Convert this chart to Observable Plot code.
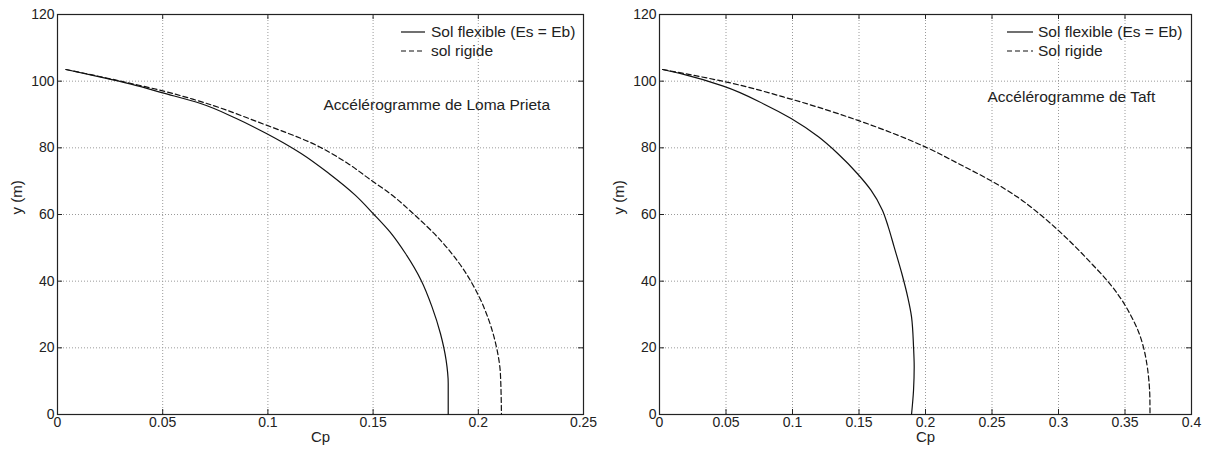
<!DOCTYPE html>
<html>
<head>
<meta charset="utf-8">
<script src="https://cdn.jsdelivr.net/npm/d3@7"></script>
<script src="https://cdn.jsdelivr.net/npm/@observablehq/plot@0.6"></script>
<style>
  html, body { margin: 0; padding: 0; background: #fff; }
  #wrap { position: relative; width: 1212px; height: 455px; font-family: "Liberation Sans", Arial, sans-serif; }
  .panel { position: absolute; top: 0; }
  .legend { position: absolute; top: 0; left: 0; pointer-events: none; }
</style>
</head>
<body>
<div id="wrap"></div>
<script>
// ---- Data: Loma Prieta (left panel) ----
const lomaFlexX = [0.004, 0.02, 0.035, 0.05, 0.068, 0.085, 0.0993, 0.1158, 0.129, 0.1415, 0.15, 0.158, 0.1654, 0.1728, 0.178, 0.182, 0.1847, 0.1857, 0.1857];
const lomaFlexY = [103.5, 101.3, 99.1, 96.5, 93.3, 88.8, 84.3, 78.3, 72.3, 65.8, 60.3, 54.8, 48.3, 40.3, 32.3, 24.3, 16.3, 9.3, 0];
const lomaRigX = [0.004, 0.02, 0.035, 0.05, 0.0643, 0.0993, 0.1195, 0.138, 0.149, 0.158, 0.169, 0.182, 0.191, 0.2004, 0.205, 0.2086, 0.2105, 0.211];
const lomaRigY = [103.5, 101.4, 99.3, 97.1, 94.6, 86.8, 81.8, 75.3, 70.3, 66.3, 60.3, 52.3, 45.3, 35.3, 28.3, 20.3, 12.3, 0];

// ---- Data: Taft (right panel) ----
const taftFlexX = [0.0023, 0.0175, 0.048, 0.0787, 0.099, 0.1195, 0.134, 0.1487, 0.159, 0.1676, 0.172, 0.1764, 0.1822, 0.1866, 0.1895, 0.191, 0.1915, 0.191, 0.1895];
const taftFlexY = [103.5, 102.1, 98.5, 93.1, 88.8, 83.3, 78.3, 72.3, 67.3, 61.3, 56.3, 50.3, 42.3, 35.3, 29.3, 20.3, 14.3, 7.3, 0];
const taftRigX = [0.0023, 0.0496, 0.099, 0.1487, 0.1997, 0.226, 0.2507, 0.270, 0.2862, 0.3005, 0.3135, 0.3255, 0.3370, 0.3465, 0.3540, 0.3600, 0.3640, 0.3665, 0.3680, 0.3687, 0.3688];
const taftRigY = [103.5, 99.8, 94.6, 88.3, 80.3, 75, 69.8, 65, 60, 55, 50, 45, 40, 35, 30, 25, 20, 15, 10, 5, 0];

// ---- Ticks and labels ----
const xTicksLeft = [0, 0.05, 0.1, 0.15, 0.2, 0.25];
const xTicksRight = [0, 0.05, 0.1, 0.15, 0.2, 0.25, 0.3, 0.35, 0.4];
const yTicks = [0, 20, 40, 60, 80, 100, 120];
const xLabel = "Cp";
const yLabel = "y (m)";
const legendLabelsLeft = ["Sol flexible (Es = Eb)", "sol rigide"];
const legendLabelsRight = ["Sol flexible (Es = Eb)", "Sol rigide"];
const annotLeft = {text: "Accélérogramme de Loma Prieta", x: 0.1264, y: 92.8};
const annotRight = {text: "Accélérogramme de Taft", x: 0.2466, y: 95.3};

const zip = (xs, ys) => xs.map((x, i) => ({x, y: ys[i]}));

function panel({left, width, marginLeft, marginRight, xDomain, xTicks, flex, rig, annot, legend}) {
  const marginTop = 14, marginBottom = 41, height = 455;
  const innerW = width - marginLeft - marginRight;
  const innerH = height - marginTop - marginBottom;
  const tickLen = 5;
  const ink = "#222";
  const plot = Plot.plot({
    width, height, marginLeft, marginRight, marginTop, marginBottom,
    x: {domain: xDomain, axis: null},
    y: {domain: [0, 120], axis: null},
    style: {fontFamily: "'Liberation Sans', Arial, sans-serif", fontSize: "14px", color: ink, background: "#fff"},
    marks: [
      Plot.gridX(xTicks, {stroke: "#9a9a9a", strokeOpacity: 1, strokeDasharray: "1,2"}),
      Plot.gridY(yTicks, {stroke: "#9a9a9a", strokeOpacity: 1, strokeDasharray: "1,2"}),
      // inward ticks on all four sides
      Plot.tickX(xTicks, {x: d => d, insetTop: innerH - tickLen, stroke: ink}),
      Plot.tickX(xTicks, {x: d => d, insetBottom: innerH - tickLen, stroke: ink}),
      Plot.tickY(yTicks, {y: d => d, insetRight: innerW - tickLen, stroke: ink}),
      Plot.tickY(yTicks, {y: d => d, insetLeft: innerW - tickLen, stroke: ink}),
      Plot.frame({stroke: ink, strokeWidth: 1.2}),
      // tick labels
      Plot.text(xTicks, {x: d => d, frameAnchor: "bottom", dy: 12, text: d => String(d), fill: ink, fontSize: 14}),
      Plot.text(yTicks, {y: d => d, frameAnchor: "left", dx: -3, textAnchor: "end", text: d => String(d), fill: ink, fontSize: 14}),
      // axis labels
      Plot.text([xLabel], {frameAnchor: "bottom", dy: 27, text: d => d, fill: ink, fontSize: 15}),
      Plot.text([yLabel], {frameAnchor: "left", dx: -40, rotate: -90, text: d => d, fill: ink, fontSize: 15}),
      // curves
      Plot.line(flex, {x: "x", y: "y", stroke: "#111", strokeWidth: 1.2, curve: "monotone-y"}),
      Plot.line(rig, {x: "x", y: "y", stroke: "#111", strokeWidth: 1.2, strokeDasharray: "5,3", curve: "monotone-y"}),
      // annotation
      Plot.text([annot], {x: "x", y: "y", text: "text", textAnchor: "start", fill: ink, fontSize: 15.5})
    ]
  });
  const div = document.createElement("div");
  div.className = "panel";
  div.style.left = left + "px";
  div.appendChild(plot);
  // legend overlay
  const ns = "http://www.w3.org/2000/svg";
  const svg = document.createElementNS(ns, "svg");
  svg.setAttribute("class", "legend");
  svg.setAttribute("width", width);
  svg.setAttribute("height", 80);
  legend.labels.forEach((lab, i) => {
    const yy = 32 + i * 19;
    const ln = document.createElementNS(ns, "line");
    ln.setAttribute("x1", legend.x0); ln.setAttribute("x2", legend.x1);
    ln.setAttribute("y1", yy); ln.setAttribute("y2", yy);
    ln.setAttribute("stroke", "#111"); ln.setAttribute("stroke-width", 1.2);
    if (i === 1) ln.setAttribute("stroke-dasharray", "5,3");
    svg.appendChild(ln);
    const t = document.createElementNS(ns, "text");
    t.setAttribute("x", legend.tx); t.setAttribute("y", yy);
    t.setAttribute("dy", "0.35em");
    t.setAttribute("fill", ink);
    t.setAttribute("font-family", "'Liberation Sans', Arial, sans-serif");
    t.setAttribute("font-size", "15.5px");
    t.textContent = lab;
    svg.appendChild(t);
  });
  div.appendChild(svg);
  return div;
}

const wrap = document.getElementById("wrap");
wrap.appendChild(panel({
  left: 0, width: 606, marginLeft: 57, marginRight: 23,
  xDomain: [0, 0.25], xTicks: xTicksLeft,
  flex: zip(lomaFlexX, lomaFlexY), rig: zip(lomaRigX, lomaRigY),
  annot: annotLeft,
  legend: {labels: legendLabelsLeft, x0: 401, x1: 425, tx: 431}
}));
wrap.appendChild(panel({
  left: 606, width: 606, marginLeft: 53, marginRight: 21,
  xDomain: [0, 0.4], xTicks: xTicksRight,
  flex: zip(taftFlexX, taftFlexY), rig: zip(taftRigX, taftRigY),
  annot: annotRight,
  legend: {labels: legendLabelsRight, x0: 401, x1: 427, tx: 432}
}));
</script>
</body>
</html>
